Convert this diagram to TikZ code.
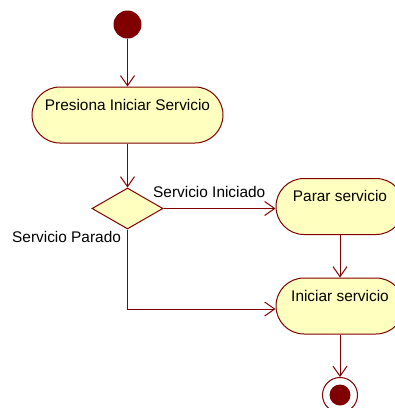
\documentclass[tikz,border=0pt]{standalone}
\usepackage{fontspec}
\setmainfont{Liberation Sans}
\usetikzlibrary{arrows.meta,shapes.geometric}
\definecolor{umlred}{HTML}{800000}
\definecolor{umlfill}{HTML}{FFFFC0}
\begin{document}
\begin{tikzpicture}[x=1pt,y=-1pt,font=\fontsize{15.4}{18}\selectfont,
  act/.style={draw=umlred,fill=umlfill,line width=1pt,rounded corners=28pt,inner sep=0pt,minimum height=56pt,text height=23pt,text depth=33pt},
  flow/.style={draw=umlred,line width=1pt,-{Straight Barb[length=10pt,width=14pt]}}]
\useasboundingbox (0,0) rectangle (395,408);
\node[circle,fill=umlred,minimum size=28pt,inner sep=0pt] (start) at (127.5,24.5) {};
\node[act,minimum width=191pt] (presiona) at (127.5,115) {Presiona Iniciar Servicio};
\node[diamond,draw=umlred,fill=umlfill,line width=1pt,minimum width=71pt,minimum height=41pt,inner sep=0pt] (dec) at (127.5,208.5) {};
\node[act,minimum width=128pt] (parar) at (340,206.5) {Parar servicio};
\node[act,minimum width=128pt] (iniciar) at (340,306) {Iniciar servicio};
\node[circle,draw=umlred,line width=1pt,minimum size=35pt,inner sep=0pt] (fin) at (340,395) {};
\node[circle,fill=umlred,minimum size=21pt,inner sep=0pt] at (fin) {};
% transitions
\draw[flow] (start) -- (presiona);
\draw[flow] (presiona) -- (dec);
\draw[flow] (dec.east) -- (parar.west |- dec.east);
\draw[flow] (dec.south) |- ([yshift=-3pt]iniciar.west);
\draw[flow] (parar) -- (iniciar);
\draw[flow] (iniciar) -- (fin);
\node[anchor=base west,inner sep=0pt] (lblini) at (153,197) {Servicio Iniciado};
\node[anchor=base west,inner sep=0pt] (lblpar) at (12,242) {Servicio Parado};
\end{tikzpicture}
\end{document}
